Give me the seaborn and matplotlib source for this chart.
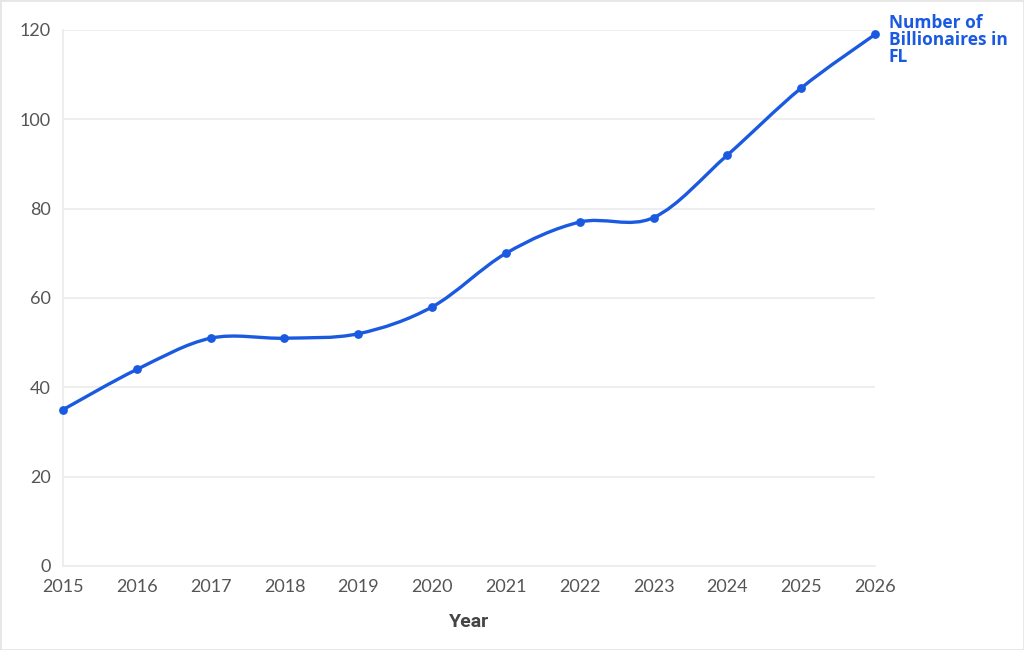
import numpy as np
import pandas as pd
import matplotlib
matplotlib.use("Agg")
import matplotlib.pyplot as plt
import seaborn as sns
from matplotlib.path import Path
from matplotlib.patches import PathPatch, Rectangle

years = [2015, 2016, 2017, 2018, 2019, 2020, 2021, 2022, 2023, 2024, 2025, 2026]
billionaires = [35, 44, 51, 51, 52, 58, 70, 77, 78, 92, 107, 119]
y_ticks = [0, 20, 40, 60, 80, 100, 120]
series_label = "Number of\nBillionaires in\nFL"

BLUE = "#1a5ae0"
GRID = "#ebebeb"
TEXT = "#555555"

sns.set_theme(style="white")
plt.rcParams["font.family"] = ["Lato", "DejaVu Sans"]

df = pd.DataFrame({"Year": years, "Count": billionaires})

fig = plt.figure(figsize=(10.24, 6.5), dpi=100)
ax = fig.add_axes([63 / 1024, 1 - 566 / 650, (875 - 63) / 1024, (566 - 30) / 650])

# smooth line through the points (Catmull-Rom as cubic Bezier segments)
x = df["Year"].to_numpy(dtype=float)
y = df["Count"].to_numpy(dtype=float)
k = 1.0
verts = [(x[0], y[0])]
codes = [Path.MOVETO]
n = len(x)
for i in range(n - 1):
    x0, y0 = (x[i - 1], y[i - 1]) if i > 0 else (x[i], y[i])
    x3, y3 = (x[i + 2], y[i + 2]) if i + 2 < n else (x[i + 1], y[i + 1])
    c1 = (x[i] + (x[i + 1] - x0) / 6 * k, y[i] + (y[i + 1] - y0) / 6 * k)
    c2 = (x[i + 1] - (x3 - x[i]) / 6 * k, y[i + 1] - (y3 - y[i]) / 6 * k)
    verts += [c1, c2, (x[i + 1], y[i + 1])]
    codes += [Path.CURVE4] * 3
ax.add_patch(PathPatch(Path(verts, codes), facecolor="none", edgecolor=BLUE,
                       lw=2.4, capstyle="round", joinstyle="round", clip_on=False, zorder=3))

sns.scatterplot(data=df, x="Year", y="Count", ax=ax, color=BLUE, s=40,
                edgecolor=BLUE, linewidth=0, zorder=4, clip_on=False)

ax.set_xlim(2015, 2026)
ax.set_ylim(0, 120)
ax.set_xticks(years)
ax.set_yticks(y_ticks)
ax.set_xticklabels([str(v) for v in years], fontsize=13, color=TEXT)
ax.set_yticklabels([str(v) for v in y_ticks], fontsize=13, color=TEXT)
ax.grid(axis="y", color=GRID, lw=1.2)
ax.grid(axis="x", visible=False)
for side in ["top", "right"]:
    ax.spines[side].set_visible(False)
ax.spines["left"].set_color(GRID)
ax.spines["left"].set_linewidth(1.2)
ax.spines["bottom"].set_color(GRID)
ax.spines["bottom"].set_linewidth(1.2)
ax.tick_params(axis="both", length=7, width=1.2, color=GRID, pad=2)

ax.set_xlabel("Year", fontsize=14, fontweight="bold", color="#444444",
              family=["Roboto", "DejaVu Sans"], labelpad=13)
ax.set_ylabel("")

ax.annotate(series_label, xy=(x[-1], y[-1]), xytext=(10, 14.5), textcoords="offset points",
            ha="left", va="top", fontsize=12.5, fontweight="bold", color=BLUE,
            family=["Open Sans", "DejaVu Sans"], linespacing=0.9, annotation_clip=False)

fig.patches.append(Rectangle((0, 0), 1, 1, transform=fig.transFigure, fill=False,
                             edgecolor="#e6e6e6", lw=2))

fig.savefig("out.png", dpi=100)
print("Saved out.png")
